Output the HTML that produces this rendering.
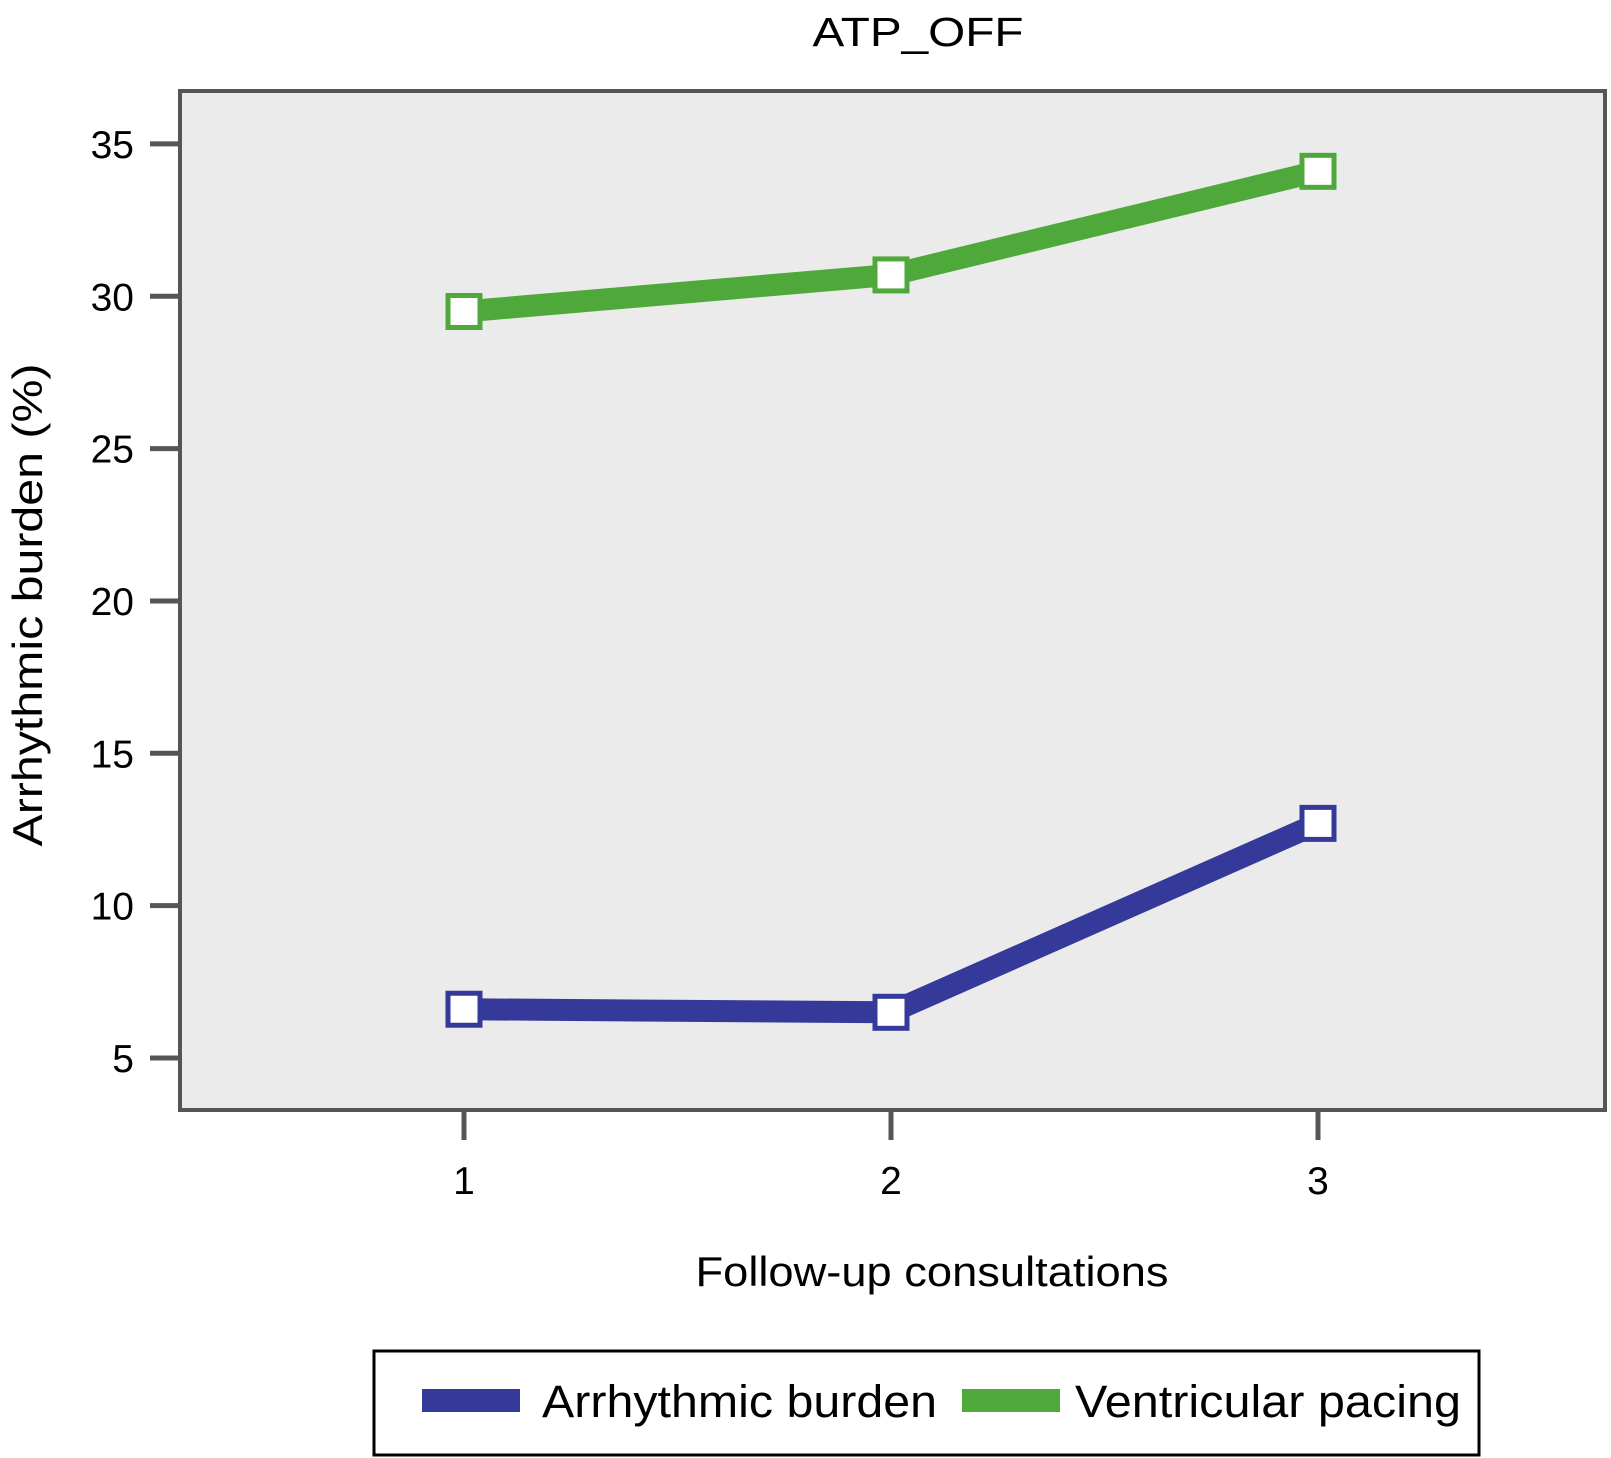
<!DOCTYPE html>
<html><head><meta charset="utf-8"><style>
html,body{margin:0;padding:0;background:#fff;}
svg{display:block;font-family:"Liberation Sans",sans-serif;}
</style></head><body>
<svg id="chart" width="1611" height="1458" viewBox="0 0 1611 1458">
<text x="918" y="46" font-size="41" text-anchor="middle" textLength="211" lengthAdjust="spacingAndGlyphs">ATP_OFF</text>
<rect x="180" y="91" width="1425" height="1019" fill="#ebebeb" stroke="#555" stroke-width="4"/>
<g id="yaxis"></g>
<g id="xaxis"></g>
<g id="series"></g>
<text transform="translate(42,605) rotate(-90)" font-size="42" text-anchor="middle" textLength="483" lengthAdjust="spacingAndGlyphs">Arrhythmic burden (%)</text>
<text x="932" y="1286" font-size="42" text-anchor="middle" textLength="473" lengthAdjust="spacingAndGlyphs">Follow-up consultations</text>
<g>
<rect x="374" y="1351" width="1105" height="104" fill="#fff" stroke="#000" stroke-width="3"/>
<rect x="422" y="1389" width="98" height="23" fill="#35399a"/>
<text x="542" y="1417" font-size="45" textLength="395" lengthAdjust="spacingAndGlyphs">Arrhythmic burden</text>
<rect x="962" y="1389" width="98" height="23" fill="#4ea83a"/>
<text x="1075" y="1417" font-size="45" textLength="386" lengthAdjust="spacingAndGlyphs">Ventricular pacing</text>
</g>
</svg>
<script>
const categories = [1, 2, 3];
const arrhythmicBurden = [6.6, 6.5, 12.7];
const ventricularPacing = [29.5, 30.7, 34.1];
const yTicks = [5, 10, 15, 20, 25, 30, 35];

const NS = "http://www.w3.org/2000/svg";
function xScale(c){ return 464 + (c - 1) * 427; }
function yScale(v){ return 1058 - (v - 5) * 30.47; }
function mk(tag, attrs, parent){
  const e = document.createElementNS(NS, tag);
  for (const k in attrs) e.setAttribute(k, attrs[k]);
  parent.appendChild(e); return e;
}
const yaxis = document.getElementById('yaxis');
yTicks.forEach(t => {
  const y = yScale(t);
  const l = mk('line', {x1:150, x2:180, y1:y, y2:y, stroke:'#555', 'stroke-width':5}, yaxis);
  
  
  const tx = mk('text', {x:134, y:y+14, 'font-size':39, 'text-anchor':'end'}, yaxis);
  tx.textContent = t;
  
  
});
const xaxis = document.getElementById('xaxis');
categories.forEach(c => {
  const x = xScale(c);
  const l = mk('line', {x1:x, x2:x, y1:1110, y2:1140, stroke:'#555', 'stroke-width':5}, xaxis);
  
  
  const tx = mk('text', {x:x, y:1194, 'font-size':39, 'text-anchor':'middle'}, xaxis);
  tx.textContent = c;
  
  
});
const series = document.getElementById('series');
function drawSeries(vals, color, name){
  const pts = vals.map((v,i) => xScale(categories[i]) + ',' + yScale(v)).join(' ');
  const pl = mk('polyline', {points:pts, fill:'none', stroke:color, 'stroke-width':22, 'stroke-linejoin':'round'}, series);
  
  
  vals.forEach((v,i) => {
    const x = xScale(categories[i]), y = yScale(v);
    const r = mk('rect', {x:x-16, y:y-16, width:32, height:32, fill:'#fff', stroke:color, 'stroke-width':5}, series);
    
    
  });
}
drawSeries(ventricularPacing, '#4ea83a', 'ventricular-pacing');
drawSeries(arrhythmicBurden, '#35399a', 'arrhythmic-burden');
</script>
</body></html>
